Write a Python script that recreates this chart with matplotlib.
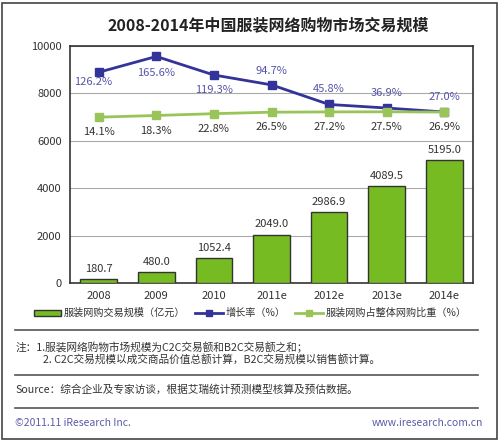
import matplotlib.pyplot as plt
from matplotlib.patches import Rectangle
from matplotlib.lines import Line2D

plt.rcParams['font.family'] = ['Noto Sans CJK SC', 'DejaVu Sans']

years = ['2008', '2009', '2010', '2011e', '2012e', '2013e', '2014e']
scale = [180.7, 480.0, 1052.4, 2049.0, 2986.9, 4089.5, 5195.0]
growth = [126.2, 165.6, 119.3, 94.7, 45.8, 36.9, 27.0]
share = [14.1, 18.3, 22.8, 26.5, 27.2, 27.5, 26.9]

bar_c = '#77bb22'
blue_c = '#333399'
green_c = '#99c45a'
txt_c = '#333333'

fig = plt.figure(figsize=(5, 4.41), dpi=100)
fig.patch.set_facecolor('white')
fig.patches.append(Rectangle((0.004, 0.004), 0.99, 0.99, transform=fig.transFigure,
                             fill=False, edgecolor='#444444', linewidth=1.2))

ax = fig.add_axes([0.14, 0.358, 0.806, 0.538])
x = list(range(len(years)))
ax.bar(x, scale, width=0.64, color=bar_c, edgecolor='#333333', linewidth=1.0, zorder=3)
for xi, v in zip(x, scale):
    ax.text(xi, v + 220, f'{v:.1f}', ha='center', va='bottom', fontsize=8, color=txt_c)
ax.set_xlim(-0.5, 6.5)
ax.set_ylim(0, 10000)
ax.set_yticks([0, 2000, 4000, 6000, 8000, 10000])
ax.set_xticks(x)
ax.set_xticklabels(years)
ax.tick_params(length=0, labelsize=8, labelcolor=txt_c, pad=6)
ax.grid(axis='y', color='#aaaaaa', linewidth=0.8, zorder=0)
for s in ax.spines.values():
    s.set_color('#333333')
    s.set_linewidth(1.2)

ax2 = ax.twinx()
ax2.set_ylim(-400, 192)
ax2.axis('off')
ax2.plot(x, growth, color=blue_c, linewidth=2, marker='s', markersize=6, zorder=4)
ax2.plot(x, share, color=green_c, linewidth=2, marker='s', markersize=6, zorder=4)
blue_off = [(-4, -7), (0, -12), (0, -11), (0, 10), (0, 11), (0, 11), (0, 11)]
for i, (g, s) in enumerate(zip(growth, share)):
    ax2.annotate(f'{g:.1f}%', (i, g), xytext=blue_off[i], textcoords='offset points',
                 ha='center', va='center', fontsize=8, color='#5555aa')
    ax2.annotate(f'{s:.1f}%', (i, s), xytext=(0, -11), textcoords='offset points',
                 ha='center', va='center', fontsize=8, color=txt_c)

fig.text(0.536, 0.943, '2008-2014年中国服装网络购物市场交易规模', ha='center', va='center',
         fontsize=11.5, fontweight='bold', color='#222222')

handles = [
    Rectangle((0, 0), 1, 1, facecolor=bar_c, edgecolor='#333333'),
    Line2D([], [], color=blue_c, marker='s', markersize=5, linewidth=2),
    Line2D([], [], color=green_c, marker='s', markersize=5, linewidth=2),
]
labels = ['服装网购交易规模（亿元）', '增长率（%）', '服装网购占整体网购比重（%）']
fig.legend(handles, labels, loc='center', bbox_to_anchor=(0.5, 0.29), ncol=3, frameon=False,
           fontsize=7.3, handlelength=2.7, handleheight=0.5, columnspacing=1.0,
           handletextpad=0.25, labelcolor=txt_c)

for yy in [0.252, 0.150, 0.075]:
    fig.add_artist(Line2D([0.03, 0.956], [yy, yy], transform=fig.transFigure,
                          color='#555555', linewidth=1.2))

fig.text(0.032, 0.213, '注：1.服装网络购物市场规模为C2C交易额和B2C交易额之和；', fontsize=7.7,
         color=txt_c, va='center')
fig.text(0.086, 0.184, '2. C2C交易规模以成交商品价值总额计算，B2C交易规模以销售额计算。', fontsize=7.7,
         color=txt_c, va='center')
fig.text(0.03, 0.116, 'Source：综合企业及专家访谈，根据艾瑞统计预测模型核算及预估数据。', fontsize=7.7,
         color=txt_c, va='center')
fig.text(0.03, 0.041, '©2011.11 iResearch Inc.', fontsize=7.5, color='#5b5ba8', va='center')
fig.text(0.966, 0.041, 'www.iresearch.com.cn', fontsize=7.5, color='#5b5ba8', va='center', ha='right')

fig.savefig('out.png', dpi=100, facecolor='white')
